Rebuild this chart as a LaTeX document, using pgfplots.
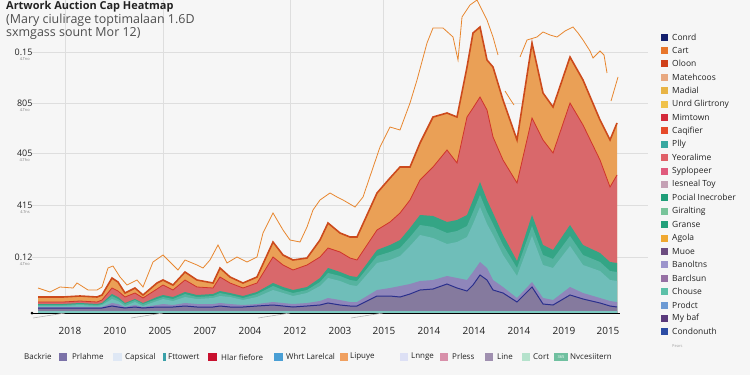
\documentclass[border=0pt]{standalone}
\usepackage{pgfplots}
\usepackage{pgfplotstable}
\pgfplotsset{compat=1.18}
\usepackage{fontspec}
\setmainfont{Open Sans}
\setsansfont{Open Sans}

\definecolor{bgc}{HTML}{F6F6F6}
\definecolor{gridc}{HTML}{DEDEDE}
\definecolor{topfill}{HTML}{EAA056}
\definecolor{topedge}{HTML}{CC4A1C}
\definecolor{redfill}{HTML}{D9686B}
\definecolor{rededge}{HTML}{D0352A}
\definecolor{greenfill}{HTML}{34A585}
\definecolor{greenmid}{HTML}{55B3A0}
\definecolor{tealfill}{HTML}{6FBEB9}
\definecolor{purpfill}{HTML}{8F86BA}
\definecolor{purpdark}{HTML}{857A9E}
\definecolor{navyline}{HTML}{2A2F8C}
\definecolor{basefill}{HTML}{7CC8C0}
\definecolor{olinec}{HTML}{E8862E}
\definecolor{txt}{HTML}{222222}

\definecolor{lA}{HTML}{14206E}\definecolor{lB}{HTML}{E8762B}\definecolor{lC}{HTML}{D0401A}
\definecolor{lD}{HTML}{E8A880}\definecolor{lE}{HTML}{E8B445}\definecolor{lF}{HTML}{F0C24A}
\definecolor{lG}{HTML}{D42A3A}\definecolor{lH}{HTML}{E64A2A}\definecolor{lI}{HTML}{38A8A0}
\definecolor{lJ}{HTML}{E06068}\definecolor{lK}{HTML}{E05A7C}\definecolor{lL}{HTML}{C4A0B4}
\definecolor{lM}{HTML}{1F9E78}\definecolor{lN}{HTML}{78C49A}\definecolor{lO}{HTML}{22A07A}
\definecolor{lP}{HTML}{F0A830}\definecolor{lQ}{HTML}{6C4C80}\definecolor{lR}{HTML}{9C94CC}
\definecolor{lS}{HTML}{9670A4}\definecolor{lT}{HTML}{5CC0A8}\definecolor{lU}{HTML}{6C9AD4}
\definecolor{lV}{HTML}{5A3A7C}\definecolor{lW}{HTML}{2C4CA4}

\definecolor{bA}{HTML}{7B72A8}\definecolor{bB}{HTML}{DFE8F5}\definecolor{bC}{HTML}{3AA0A8}
\definecolor{bD}{HTML}{C8102E}\definecolor{bE}{HTML}{4A9FD5}\definecolor{bF}{HTML}{F0A060}
\definecolor{bG}{HTML}{DDE0F5}\definecolor{bH}{HTML}{D890AA}\definecolor{bI}{HTML}{A090B0}
\definecolor{bJ}{HTML}{B5E2CC}\definecolor{bK}{HTML}{70C0A0}

% cumulative heights of the stacked layers
\pgfplotstableread{
x   T   R   G   M   C   P   N   B
38  16  11  9   8   7   6   5   2
63  16  11  9   8   7   6   5   2
80  17  12  10  9   8   6   5   2
97  16  11  9   8   7   6   5   2
102 18  13  10  9   8   6   5   2
112 35  25  19  17  14  10  7   2
118 31  22  16  14  12  9   6   2
125 20  16  10  9   7   6   5   2
135 25  20  14  13  11  8   6   2
143 18  15  10  9   7   6   5   2
157 30  24  16  14  12  8   6   2
163 33  28  18  16  14  9   6   2
173 28  23  16  14  12  8   6   2
185 41  33  21  19  16  10  7   2
197 33  26  18  16  14  9   6   2
213 30  25  19  17  15  9   6   2
220 45  36  22  20  17  10  7   2
230 36  30  20  18  16  9   6   2
243 30  25  17  15  13  8   6   2
257 36  30  21  19  16  9   7   2
273 71  56  30  27  23  11  8   2
283 58  48  26  23  20  10  7   2
293 53  43  23  20  17  9   6   2
307 55  48  26  23  20  10  7   2
320 73  56  35  31  27  12  8   2
328 90  65  45  40  35  15  10  2
340 80  61  41  37  32  13  8   2
350 76  55  37  33  28  11  7   2
357 76  53  36  32  27  11  7   2
377 120 83  63  57  50  23  17  2
390 135 91  68  61  53  25  17  2
400 146 100 73  65  57  27  16  2
410 146 113 85  76  67  29  19  2
420 170 133 98  88  78  32  23  2
433 196 146 97  86  75  33  24  2
447 200 163 91  80  69  37  29  2
457 196 150 93  82  71  35  25  2
467 246 196 98  87  76  33  22  2
473 280 205 113 101 89  41  28  2
480 286 216 131 118 106 51  38  2
487 253 203 113 101 89  45  33  2
493 246 176 100 89  78  33  23  2
503 213 153 78  68  58  26  20  2
517 173 130 52  45  37  15  11  2
532 270 195 98  87  77  31  26  2
543 220 173 68  58  48  15  9   2
553 206 160 63  54  45  13  8   2
570 256 210 88  77  67  26  18  2
583 233 188 68  58  48  20  14  2
600 193 153 60  51  42  15  10  2
610 173 126 51  42  33  12  7   2
617 190 138 50  41  32  11  6   2
}\stack

\begin{document}
\begin{tikzpicture}[x=1bp,y=1bp,font=\fontsize{8}{9}\selectfont]
\fill[bgc] (0,0) rectangle (750,375);

\begin{axis}[
  at={(32,62)}, anchor=south west, scale only axis,
  width=616bp, height=313bp,
  xmin=32, xmax=648, ymin=0, ymax=313,
  axis line style={draw=none},
  major tick length=0pt,
  xtick={70,115,160,205,250,295,340,384,429,474,519,564,608},
  xticklabels={2018,2010,2005,2007,2004,2012,2003,2015,2014,2014,2014,2019,2015},
  xticklabel style={font=\fontsize{10}{12}\selectfont, text=txt, yshift=-11bp},
  ytick={56,108,160,210,261},
  yticklabels={0.12,415,405,805,0.15},
  yticklabel style={font=\fontsize{9}{10}\selectfont, text=txt, xshift=4bp},
  ymajorgrids,
  major grid style={draw=gridc, line width=0.8pt},
  extra x ticks={65,163,290,383},
  extra x tick labels={},
  extra x tick style={grid=major},
  /pgf/number format/assume math mode=true,
  clip=false,
]
\addplot[fill=topfill, draw=none] table[x=x,y=T]{\stack} \closedcycle;
\addplot[draw=topedge, line width=1.6pt] table[x=x,y=T]{\stack};
\addplot[fill=redfill, draw=none] table[x=x,y=R]{\stack} \closedcycle;
\addplot[draw=rededge, line width=0.8pt] table[x=x,y=R]{\stack};
\addplot[fill=greenfill, draw=none] table[x=x,y=G]{\stack} \closedcycle;
\addplot[fill=greenmid, draw=none] table[x=x,y=M]{\stack} \closedcycle;
\addplot[fill=tealfill, draw=none] table[x=x,y=C]{\stack} \closedcycle;
\addplot[fill=purpfill, draw=none] table[x=x,y=P]{\stack} \closedcycle;
\addplot[fill=purpdark, draw=none] table[x=x,y=N]{\stack} \closedcycle;
\addplot[draw=navyline, line width=1pt] table[x=x,y=N]{\stack};
\addplot[fill=basefill, draw=none] table[x=x,y=B]{\stack} \closedcycle;

% orange line (segments)
\addplot[draw=olinec, line width=0.8pt] coordinates {
(38,25)(50,21)(60,26)(73,25)(77,30)(88,23)(97,23)(102,26)(108,45)(113,47)
(120,36)(127,28)(137,33)(143,26)(153,51)(163,58)(170,51)(178,43)(185,53)
(197,48)(203,45)(210,53)(218,68)(227,50)(237,56)(247,51)(257,56)(263,80)
(273,100)(283,83)(290,73)(300,71)(307,86)(313,103)(320,113)(330,120)
(337,116)(343,113)(355,106)(363,116)(380,166)(390,186)(400,183)(410,210)
(417,233)(427,270)(433,285)(443,285)(453,276)(458,253)(462,296)(470,308)
(477,313)(487,293)(493,276)(498,258)};
\addplot[draw=olinec, line width=0.8pt] coordinates {(505,222)(510,214)(514,208)};
\addplot[draw=olinec, line width=0.8pt] coordinates {
(520,256)(527,273)(537,276)(543,281)(550,278)(557,276)(565,282)(573,286)
(578,280)(583,273)(590,262)(593,255)(600,262)(604,258)(607,240)};
\addplot[draw=olinec, line width=0.8pt] coordinates {(611,212)(618,236)};

% x axis line and tick marks
\draw[black, line width=1pt] (axis cs:32,0) -- (axis cs:620,0);
\fill[black] (axis cs:32,0) circle (1.5bp);
\pgfplotsinvokeforeach{65,163,290,383}{\draw[gray!60, line width=0.6pt] (axis cs:#1,0) -- ++(0,-5);}

% small sub-labels of y ticks
\node[anchor=north east, inner sep=0pt, text=gray, font=\fontsize{4}{5}\selectfont] at ([xshift=-2bp,yshift=-5bp]axis cs:32,56) {4.Tno};
\node[anchor=north east, inner sep=0pt, text=gray, font=\fontsize{4}{5}\selectfont] at ([xshift=-2bp,yshift=-5bp]axis cs:32,108) {4.Tns};
\node[anchor=north east, inner sep=0pt, text=gray, font=\fontsize{4}{5}\selectfont] at ([xshift=-2bp,yshift=-5bp]axis cs:32,160) {4.Tho};
\node[anchor=north east, inner sep=0pt, text=gray, font=\fontsize{4}{5}\selectfont] at ([xshift=-2bp,yshift=-5bp]axis cs:32,210) {4.Tno};
\node[anchor=north east, inner sep=0pt, text=gray, font=\fontsize{4}{5}\selectfont] at ([xshift=-2bp,yshift=-5bp]axis cs:32,261) {4.Tno};
\end{axis}

% title and subtitle
\node[anchor=base west, inner sep=0pt, font=\bfseries\fontsize{11}{13}\selectfont, text=txt] at (6,366) {Artwork Auction Cap Heatmap};
\node[anchor=west, inner sep=0pt, font=\fontsize{12.5}{15}\selectfont, text=txt!80] at (6,355) {(Mary ciulirage toptimalaan 1.6D};
\node[anchor=west, inner sep=0pt, font=\fontsize{12.5}{15}\selectfont, text=txt!80] at (6,342) {sxmgass sount Mor 12)};

% right legend
\foreach \cc/\lbl [count=\ii from 0] in {lA/Conrd,lB/Cart,lC/Oloon,lD/Matehcoos,lE/Madial,lF/Unrd Glirtrony,lG/Mimtown,lH/Caqifier,lI/Plly,lJ/Yeoralime,lK/Syplopeer,lL/Iesneal Toy,lM/Pocial Inecrober,lN/Giralting,lO/Granse,lP/Agola,lQ/Muoe,lR/Banoltns,lS/Barclsun,lT/Chouse,lU/Prodct,lV/My baf,lW/Condonuth} {
  \pgfmathsetmacro\yy{375-37-13.4*\ii}
  \fill[\cc] (661,\yy-3.5) rectangle (668,\yy+3.5);
  \node[anchor=west, inner sep=0pt, text=txt, font=\fontsize{8.5}{10}\selectfont] at (672,\yy) {\lbl};
}
\node[anchor=west, inner sep=0pt, text=gray!70, font=\fontsize{4}{5}\selectfont] at (672,29) {Pears};

% bottom legend
\node[anchor=west, inner sep=0pt, text=txt] at (24,18) {Backrie};
\foreach \xs/\ww/\cc/\xt/\lbl in {59/8/bA/72/Prlahme,113/9/bB/125/Capsical,163/3/bC/168/Fttowert,208/9/bD/221/Hlar fiefore,274/9/bE/286/Whrt Larelcal,340/8/bF/350/Lipuye,400/8/bG/411/Lnnge,440/8/bH/452/Prless,485/8/bI/497/Line,522/8/bJ/533/Cort,554/14/bK/570/Nvcesiitern} {
  \fill[\cc] (\xs,14) rectangle ++(\ww,8);
  \node[anchor=west, inner sep=0pt, text=txt] at (\xt,18) {\lbl};
}
\node[inner sep=0pt, text=white, font=\fontsize{4}{5}\selectfont] at (561,18) {365};

\pgfresetboundingbox
\useasboundingbox (0,0) rectangle (750,375);
\end{tikzpicture}
\end{document}
